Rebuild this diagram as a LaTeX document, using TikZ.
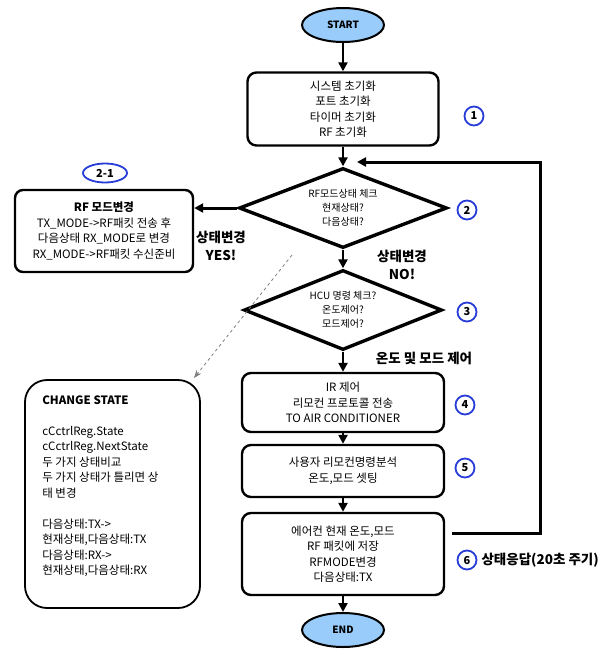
\documentclass[tikz,border=0pt]{standalone}
\usepackage{fontspec}
\setmainfont{Noto Sans CJK KR}
\usetikzlibrary{shapes.geometric}
\usetikzlibrary{positioning}
\usetikzlibrary{calc}
\usetikzlibrary{arrows.meta}
\definecolor{termblue}{RGB}{153,204,250}
\definecolor{markblue}{RGB}{40,60,215}

\begin{document}
\begin{tikzpicture}[x=1pt, y=-1pt, -{Triangle[width=9pt,length=9pt]}, line width=2.4pt, font=\fontsize{11.5}{15.5}\selectfont]
			\tikzstyle{term}=[draw=black, ellipse, fill=termblue, minimum width=82pt, minimum height=34pt, inner sep=0pt, line width=2pt, font=\bfseries\fontsize{10}{12}\selectfont]
			\tikzstyle{block}=[draw=black, rectangle, rounded corners=9pt, fill=white, align=center, inner sep=0pt, line width=2.4pt]
			\tikzstyle{decision}=[draw=black, diamond, aspect=2.6, align=center, inner sep=0pt, line width=3.4pt, font=\fontsize{10}{14}\selectfont]
			\tikzstyle{numc}=[draw=markblue, fill=white, circle, line width=1.8pt, minimum size=19pt, inner sep=0pt, font=\bfseries\fontsize{11}{12}\selectfont]
			\tikzstyle{note}=[align=center, font=\bfseries\fontsize{13.5}{18}\selectfont]
			\useasboundingbox (0,0) rectangle (616,654);

			% main flow
			\node[term] (start) at (343,25) {START};
			\node[block, minimum width=191pt, minimum height=73pt] (init) at (343,109) {시스템 초기화\\포트 초기화\\타이머 초기화\\RF 초기화};
			\node[decision, minimum width=208pt, minimum height=80pt] (rfchk) at (343,208) {RF모드상태 체크\\현재상태?\\다음상태?};
			\node[decision, minimum width=198pt, minimum height=80pt] (hcu) at (343,310) {HCU 명령 체크?\\온도제어?\\모드제어?};
			\node[block, minimum width=202pt, minimum height=59pt] (ir) at (343,402.5) {IR 제어\\리모컨 프로토콜 전송\\TO AIR CONDITIONER};
			\node[block, minimum width=202pt, minimum height=52pt] (user) at (343,471) {사용자 리모컨명령분석\\온도,모드 셋팅};
			\node[block, minimum width=202pt, minimum height=82pt] (save) at (343,554) {에어컨 현재 온도,모드\\RF 패킷에 저장\\RFMODE변경\\다음상태:TX};
			\node[term] (end) at (343,630) {END};

			\path (start) edge (init);
			\path (init) edge (rfchk);
			\path (rfchk) edge (hcu);
			\path (hcu) edge (ir);
			\path (ir) edge (user);
			\path (user) edge (save);
			\path (save) edge (end);

			% state response loop
			\coordinate (fbstart) at (452,533);
			\coordinate (fbtop) at (540,162);
			\coordinate (fbend) at (357,162);
			\draw[line width=3pt] (fbstart) -| (fbtop) -- (fbend);

			% RF mode change
			\node[block, minimum width=178pt, minimum height=82pt, rounded corners=8pt] (rfbox) at (104,231) {\textbf{RF 모드변경}\\TX\_MODE->RF패킷  전송 후\\다음상태 RX\_MODE로 변경\\RX\_MODE->RF패킷  수신준비};
			\draw[line width=3pt] (rfchk.west) -- (rfchk.west -| rfbox.east);

			% change state note
			\node[block, minimum width=175pt, minimum height=228pt, rounded corners=22pt, line width=1.8pt] (chg) at (112.5,494) {};
			\node[anchor=north west, align=left, inner sep=0pt] (chgtxt) at ($(chg.north west)+(17,15)$) {\textbf{CHANGE STATE}\\[15.5pt]cCctrlReg.State\\cCctrlReg.NextState\\두 가지 상태비교\\두 가지 상태가 틀리면 상\\태 변경\\[15.5pt]다음상태:TX->\\현재상태,다음상태:TX\\다음상태:RX->\\현재상태,다음상태:RX};
			\coordinate (dstart) at (292,255);
			\coordinate (dend) at (194,378);
			\draw[dashed, draw=gray, line width=0.8pt, -{Stealth[length=8pt,width=6pt]}] (dstart) -- (dend);

			% labels
			\node[note] (yes) at (221,246) {상태변경\\YES!};
			\node[note] (no) at (402,265) {상태변경\\NO!};
			\node[note] (both) at (424,358) {온도 및 모드 제어};
			\node[note, anchor=west] (resp) at (477,560) {상태응답(20초 주기)};

			% step marks
			\node[numc] (c1) at (474,116) {1};
			\node[numc] (c2) at (467,210) {2};
			\node[numc] (c3) at (467,312) {3};
			\node[numc] (c4) at (465,405) {4};
			\node[numc] (c5) at (465,468) {5};
			\node[numc] (c6) at (467,560) {6};
			\node[draw=markblue, ellipse, line width=1.8pt, minimum width=44pt, minimum height=19pt, inner sep=0pt, font=\bfseries\fontsize{11}{12}\selectfont] (c21) at (105,173) {2-1};
			\end{tikzpicture}
\end{document}
